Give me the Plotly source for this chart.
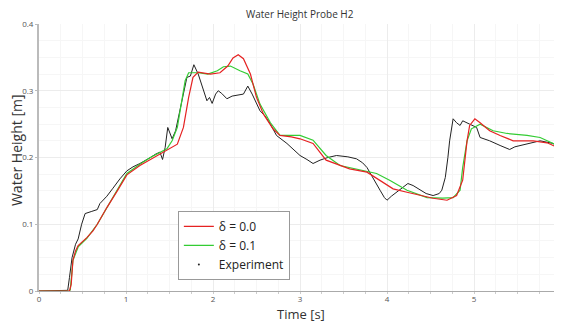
import plotly.graph_objects as go

exp_t = [0.0, 0.2, 0.33, 0.35, 0.38, 0.42, 0.45, 0.49, 0.53, 0.6, 0.67, 0.70, 0.78, 0.85, 0.93, 1.01, 1.08, 1.16, 1.22, 1.28, 1.34, 1.39, 1.42, 1.45, 1.48, 1.53, 1.57, 1.60, 1.65, 1.70, 1.74, 1.78, 1.83, 1.89, 1.93, 1.96, 1.99, 2.03, 2.06, 2.10, 2.16, 2.22, 2.28, 2.35, 2.40, 2.45, 2.54, 2.60, 2.66, 2.73, 2.85, 2.93, 3.0, 3.08, 3.15, 3.23, 3.32, 3.42, 3.55, 3.65, 3.72, 3.77, 3.85, 3.92, 3.97, 4.0, 4.05, 4.11, 4.18, 4.24, 4.30, 4.38, 4.45, 4.53, 4.60, 4.63, 4.67, 4.70, 4.72, 4.76, 4.80, 4.84, 4.87, 4.95, 5.03, 5.07, 5.18, 5.30, 5.41, 5.47, 5.53, 5.68, 5.76, 5.91, 6.0]
exp_h = [0.0, 0.0, 0.001, 0.02, 0.05, 0.07, 0.078, 0.10, 0.116, 0.119, 0.122, 0.131, 0.142, 0.154, 0.168, 0.180, 0.186, 0.191, 0.195, 0.200, 0.205, 0.208, 0.197, 0.215, 0.245, 0.228, 0.24, 0.258, 0.285, 0.320, 0.322, 0.339, 0.325, 0.300, 0.285, 0.29, 0.281, 0.295, 0.300, 0.296, 0.288, 0.292, 0.293, 0.295, 0.307, 0.295, 0.270, 0.262, 0.250, 0.233, 0.221, 0.212, 0.203, 0.197, 0.191, 0.196, 0.200, 0.203, 0.201, 0.198, 0.192, 0.185, 0.168, 0.151, 0.140, 0.136, 0.142, 0.148, 0.156, 0.161, 0.158, 0.151, 0.146, 0.143, 0.146, 0.151, 0.170, 0.200, 0.225, 0.258, 0.252, 0.248, 0.255, 0.250, 0.245, 0.230, 0.225, 0.218, 0.212, 0.216, 0.218, 0.222, 0.225, 0.221, 0.213]

d0_t = [0.0, 0.35, 0.37, 0.39, 0.42, 0.45, 0.55, 0.62, 0.67, 0.78, 0.90, 1.01, 1.16, 1.28, 1.40, 1.47, 1.59, 1.66, 1.72, 1.77, 1.83, 1.97, 2.08, 2.17, 2.23, 2.29, 2.35, 2.43, 2.5, 2.58, 2.69, 2.77, 2.9, 3.0, 3.15, 3.3, 3.46, 3.57, 3.77, 3.92, 4.07, 4.23, 4.38, 4.53, 4.69, 4.80, 4.87, 4.92, 4.95, 5.01, 5.07, 5.18, 5.3, 5.45, 5.68, 5.84, 6.0]
d0_h = [0.0, 0.0, 0.01, 0.046, 0.06, 0.068, 0.08, 0.09, 0.10, 0.125, 0.150, 0.174, 0.188, 0.197, 0.205, 0.21, 0.22, 0.245, 0.29, 0.32, 0.328, 0.325, 0.327, 0.337, 0.349, 0.354, 0.348, 0.325, 0.29, 0.265, 0.243, 0.233, 0.231, 0.228, 0.221, 0.196, 0.188, 0.183, 0.178, 0.166, 0.153, 0.148, 0.143, 0.139, 0.136, 0.143, 0.166, 0.225, 0.248, 0.258, 0.252, 0.24, 0.233, 0.225, 0.225, 0.222, 0.213]

d1_t = [0.0, 0.35, 0.36, 0.39, 0.45, 0.55, 0.67, 0.78, 0.90, 1.01, 1.16, 1.28, 1.47, 1.53, 1.59, 1.64, 1.68, 1.72, 1.83, 1.94, 2.05, 2.12, 2.2, 2.31, 2.40, 2.46, 2.54, 2.66, 2.77, 2.9, 3.0, 3.15, 3.3, 3.46, 3.69, 3.88, 4.03, 4.23, 4.46, 4.64, 4.76, 4.84, 4.87, 4.92, 4.97, 5.07, 5.22, 5.38, 5.61, 5.76, 5.91, 6.0]
d1_h = [0.0, 0.0, 0.002, 0.046, 0.066, 0.079, 0.10, 0.125, 0.151, 0.176, 0.19, 0.20, 0.213, 0.225, 0.245, 0.285, 0.315, 0.327, 0.327, 0.325, 0.33, 0.336, 0.337, 0.33, 0.325, 0.31, 0.28, 0.252, 0.233, 0.233, 0.233, 0.226, 0.203, 0.188, 0.181, 0.176, 0.166, 0.151, 0.14, 0.139, 0.14, 0.151, 0.185, 0.225, 0.243, 0.25, 0.24, 0.236, 0.233, 0.23, 0.221, 0.213]

x_ticks = [0, 1, 2, 3, 4, 5, 6]
y_ticks = [0, 0.1, 0.2, 0.3, 0.4]
y_tick_text = ["0", "0.1", "0.2", "0.3", "0.4"]

RED = "#e52222"
GREEN = "#33cc33"
BLACK = "#222222"

fig = go.Figure()
fig.add_trace(go.Scatter(x=exp_t, y=exp_h, mode="lines", line=dict(color=BLACK, width=1),
                         name="Experiment", legendgroup="exp", showlegend=False))
fig.add_trace(go.Scatter(x=d1_t, y=d1_h, mode="lines", line=dict(color=GREEN, width=1.2),
                         name="δ = 0.1", showlegend=False, legendgroup="d1"))
fig.add_trace(go.Scatter(x=d0_t, y=d0_h, mode="lines", line=dict(color=RED, width=1.2),
                         name="δ = 0.0", showlegend=False, legendgroup="d0"))
# legend entries
fig.add_trace(go.Scatter(x=[None], y=[None], mode="lines", line=dict(color=RED, width=1.2),
                         name="δ = 0.0", legendgroup="d0"))
fig.add_trace(go.Scatter(x=[None], y=[None], mode="lines", line=dict(color=GREEN, width=1.2),
                         name="δ = 0.1", legendgroup="d1"))
fig.add_trace(go.Scatter(x=[None], y=[None], mode="markers", marker=dict(color=BLACK, size=2),
                         name="Experiment", legendgroup="exp"))

# page body has an 8px default margin: figure is sized/offset to compensate
fig.update_layout(
    width=554, height=314,
    margin=dict(l=31, r=1, t=16, b=31),
    paper_bgcolor="white", plot_bgcolor="white",
    font=dict(family="Open Sans", color="#333333"),
    legend=dict(x=0.266, y=0.30, xanchor="left", yanchor="top", bgcolor="white",
                bordercolor="#999999", borderwidth=1, font=dict(size=12, color="#222222"),
                itemwidth=30, tracegroupgap=0, traceorder="normal"),
    showlegend=True,
    annotations=[
        dict(text="Water Height Probe H2", xref="paper", yref="paper", x=0.5, y=1.037,
             xanchor="center", yanchor="middle", showarrow=False, font=dict(size=10, color="#333333")),
        dict(text="Time [s]", xref="paper", yref="paper", x=0.502, y=-0.085,
             xanchor="center", yanchor="middle", showarrow=False, font=dict(size=13, color="#333333")),
        dict(text="Water Height [m]", xref="paper", yref="paper", x=-0.044, y=0.528,
             xanchor="center", yanchor="middle", textangle=-90, showarrow=False,
             font=dict(size=14, color="#333333")),
    ],
)
fig.update_xaxes(range=[0, 6], tickvals=x_ticks, ticktext=[str(v) for v in x_ticks],
                 tickfont=dict(size=8, color="#555555"), automargin=False,
                 showline=True, linecolor="#aaaaaa", linewidth=1,
                 ticks="",
                 showgrid=True, gridcolor="#ececec", gridwidth=1, zeroline=False,
                 minor=dict(dtick=0.25, showgrid=True, gridcolor="#f6f6f6", ticks="outside", ticklen=2, tickcolor="#cccccc"))
fig.update_yaxes(range=[0, 0.4], tickvals=y_ticks, ticktext=y_tick_text,
                 tickfont=dict(size=8, color="#555555"), automargin=False,
                 showline=True, linecolor="#bbbbbb", linewidth=2,
                 ticks="outside", ticklen=2, tickcolor="#bbbbbb",
                 showgrid=True, gridcolor="#ececec", gridwidth=1, zeroline=False,
                 minor=dict(dtick=0.025, showgrid=True, gridcolor="#f6f6f6"))

fig.write_html("out.html")
